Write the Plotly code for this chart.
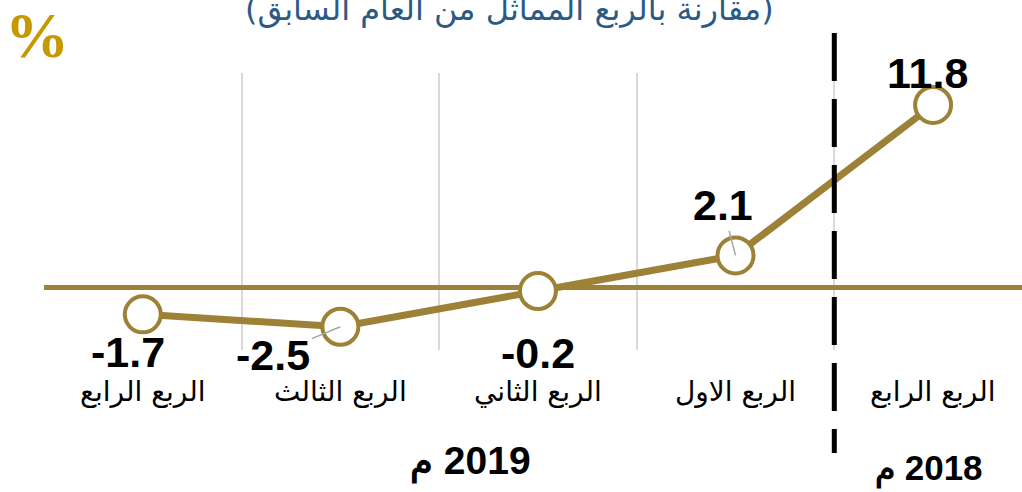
import plotly.graph_objects as go

# ---- data (right-to-left order: first item is the right-most point) ----
quarters = ["الربع الرابع", "الربع الاول", "الربع الثاني", "الربع الثالث", "الربع الرابع"]
growth = [11.8, 2.1, -0.2, -2.5, -1.7]
value_labels = ["11.8", "2.1", "-0.2", "-2.5", "-1.7"]
years = ["2018", "2019"]
title_text = "(مقارنة بالربع المماثل من العام السابق)"

GOLD = "#9c8136"
x_idx = list(range(len(quarters)))

fig = go.Figure()
fig.add_trace(go.Scatter(
    x=x_idx, y=growth, mode="lines+markers",
    line=dict(color=GOLD, width=7),
    marker=dict(size=36, color="white", line=dict(color=GOLD, width=4)),
    hoverinfo="skip", showlegend=False,
))

annotations = []
label_pos = [
    dict(xshift=-6, yshift=32),
    dict(ax=-13, ay=-50),
    dict(xshift=0, yshift=-62),
    dict(ax=-67, ay=28),
    dict(xshift=-15, yshift=-38),
]
for i, (v, t, p) in enumerate(zip(growth, value_labels, label_pos)):
    a = dict(x=i, y=v, xref="x", yref="y", text=t, xanchor="center", yanchor="middle",
             font=dict(family="Liberation Sans", size=43, color="black", weight="bold"))
    if "ax" in p:
        a.update(showarrow=True, ax=p["ax"], ay=p["ay"], arrowhead=0,
                 arrowwidth=1.5, arrowcolor="#a6a6a6", axref="pixel", ayref="pixel")
    else:
        a.update(showarrow=False, xshift=p["xshift"], yshift=p["yshift"])
    annotations.append(a)

# category labels
for i, q in enumerate(quarters):
    annotations.append(dict(x=i, y=-0.15, xref="x", yref="paper", text=q,
                            showarrow=False, xanchor="center", yanchor="middle",
                            font=dict(family="DejaVu Sans", size=28, color="black")))

# year labels
for yr, xp, yp, fs in [(years[1], 0.4366, -0.404, 39), (years[0], 0.905, -0.426, 35)]:
    annotations.append(dict(
        x=xp, y=yp, xref="paper", yref="paper", showarrow=False,
        xanchor="center", yanchor="middle",
        text="<span style='font-size:%dpx'>م</span>\u200e\u00a0" % int(fs * 0.95) + yr,
        font=dict(family="Liberation Sans", size=fs, color="black", weight="bold")))

# percent sign
annotations.append(dict(x=-0.007, y=1.134, xref="paper", yref="paper", text="%",
                        showarrow=False, xanchor="center", yanchor="middle",
                        font=dict(family="Liberation Serif", size=64, color="#c49a00",
                                  weight="bold")))
# title (partly above the top edge, as in the source)
annotations.append(dict(x=0.476, y=1.23, xref="paper", yref="paper",
                        text="\u200f" + title_text + "\u200f",
                        showarrow=False, xanchor="center", yanchor="middle",
                        font=dict(family="DejaVu Sans", size=32, color="#2b5a85")))

fig.update_layout(
    width=1022, height=492,
    margin=dict(l=44, r=0, t=73, b=142),
    paper_bgcolor="white", plot_bgcolor="white",
    annotations=annotations,
    shapes=[dict(type="line", xref="x", yref="paper", x0=0.5, x1=0.5,
                 y0=1.144, y1=-0.372,
                 line=dict(color="black", width=5, dash="48px,18px"))],
    xaxis=dict(range=[4.5, -0.45], tickvals=[0.5, 1.5, 2.5, 3.5, 4.5],
               showticklabels=False, showgrid=True, gridcolor="#d9d9d9", gridwidth=1.5,
               zeroline=False, showline=False, ticks=""),
    yaxis=dict(range=[-4.0, 13.86], showgrid=False, showticklabels=False,
               zeroline=True, zerolinecolor=GOLD, zerolinewidth=5, showline=False,
               ticks=""),
)

fig.write_html("out.html", config={"displayModeBar": False},
               post_script="document.body.style.margin='0';document.body.style.overflow='hidden';")
